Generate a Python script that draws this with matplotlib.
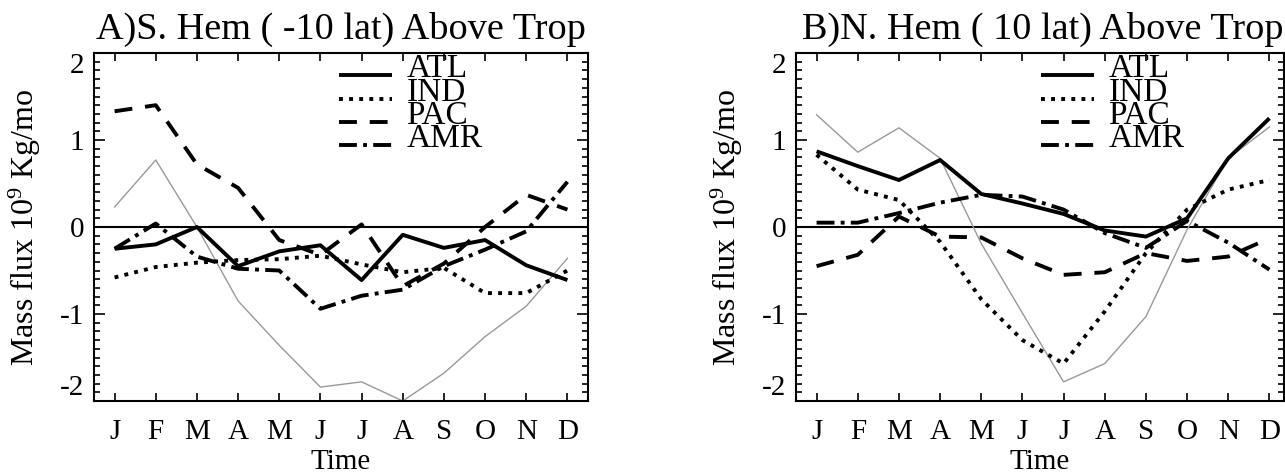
import matplotlib
matplotlib.use("Agg")
import matplotlib.pyplot as plt
import matplotlib.transforms as mtransforms
from matplotlib.ticker import MultipleLocator, FixedLocator

# ---------------- data ----------------
months = ['J', 'F', 'M', 'A', 'M', 'J', 'J', 'A', 'S', 'O', 'N', 'D']
series_names = ['ATL', 'IND', 'PAC', 'AMR']

s_atl = [-0.25, -0.20, 0.00, -0.45, -0.28, -0.21, -0.61, -0.09, -0.24, -0.15, -0.44, -0.61]
s_ind = [-0.58, -0.46, -0.41, -0.38, -0.37, -0.33, -0.43, -0.52, -0.47, -0.76, -0.76, -0.50]
s_pac = [1.33, 1.40, 0.72, 0.45, -0.15, -0.32, 0.03, -0.68, -0.42, 0.00, 0.37, 0.20]
s_amr = [-0.25, 0.04, -0.34, -0.48, -0.50, -0.94, -0.79, -0.72, -0.45, -0.26, -0.05, 0.52]
s_tot = [0.23, 0.77, 0.00, -0.85, -1.36, -1.84, -1.78, -2.00, -1.68, -1.26, -0.91, -0.36]

n_atl = [0.87, 0.70, 0.54, 0.77, 0.38, 0.27, 0.15, -0.04, -0.11, 0.10, 0.79, 1.25]
n_ind = [0.83, 0.43, 0.31, -0.17, -0.83, -1.30, -1.57, -0.97, -0.30, 0.20, 0.43, 0.54]
n_pac = [-0.45, -0.32, 0.12, -0.11, -0.12, -0.36, -0.55, -0.52, -0.30, -0.39, -0.34, -0.13]
n_amr = [0.05, 0.05, 0.16, 0.28, 0.37, 0.35, 0.20, -0.07, -0.24, 0.07, -0.18, -0.49]
n_tot = [1.29, 0.86, 1.14, 0.79, -0.19, -0.99, -1.78, -1.57, -1.03, -0.03, 0.79, 1.15]

titles = ['A)S. Hem ( -10 lat) Above Trop', 'B)N. Hem ( 10 lat) Above Trop']
ylabel = 'Mass flux 10$^9$ Kg/mo'
xlabel = 'Time'
ytick_vals = [-2, -1, 0, 1, 2]

# ---------------- style ----------------
plt.rcParams['font.family'] = ['Liberation Serif', 'DejaVu Serif']
plt.rcParams['mathtext.fontset'] = 'custom'
plt.rcParams['mathtext.rm'] = 'Liberation Serif'
plt.rcParams['mathtext.it'] = 'Liberation Serif:italic'
plt.rcParams['mathtext.default'] = 'rm'
plt.rcParams['axes.unicode_minus'] = False

LW = 2.8
styles = {
    'ATL': dict(color='black', lw=LW, linestyle='-'),
    'IND': dict(color='black', lw=LW, linestyle=(0, (1.0, 1.6))),
    'PAC': dict(color='black', lw=LW, linestyle=(0, (4.6, 3.3))),
    'AMR': dict(color='black', lw=LW, linestyle=(0, (4.6, 1.6, 1.0, 1.6))),
}

W, H = 1285, 474
fig = plt.figure(figsize=(W / 100, H / 100), dpi=100)

def fx(px):
    return px / W

def fy(py):
    return 1 - py / H

panels = [
    dict(left=94, right=588, xmax=11.5, title_x=0.5,
         data=[s_atl, s_ind, s_pac, s_amr], tot=s_tot, title=titles[0]),
    dict(left=796, right=1284, xmax=11.5 - 6 / 41.1, title_x=0.506,
         data=[n_atl, n_ind, n_pac, n_amr], tot=n_tot, title=titles[1]),
]
top_px, bot_px = 53, 401
FS_TICK = 21
FS_XLABEL = 21
FS_YLABEL = 23
FS_TITLE = 27.5
FS_LEG = 24

x = list(range(len(months)))
for p in panels:
    ax = fig.add_axes([fx(p['left']), fy(bot_px), fx(p['right'] - p['left']),
                       (bot_px - top_px) / H])
    ax.set_xlim(-0.5, p['xmax'])
    ax.set_ylim(-2, 2)
    ax.axhline(0, color='black', lw=1.5, zorder=1)
    ax.plot(x, p['tot'], color='#999999', lw=1.0, zorder=2)
    for name, vals in zip(series_names, p['data']):
        ax.plot(x, vals, zorder=3, solid_capstyle='butt', dash_capstyle='butt',
                **styles[name])

    # ticks
    ax.xaxis.set_major_locator(FixedLocator(x))
    ax.set_xticklabels(months)
    ax.yaxis.set_major_locator(FixedLocator(ytick_vals))
    ax.yaxis.set_minor_locator(MultipleLocator(0.1))
    ax.set_yticklabels([str(v) for v in ytick_vals])
    ax.tick_params(axis='both', which='both', direction='in',
                   top=True, right=True, width=1.2, color='black')
    ax.tick_params(axis='x', which='major', length=6, pad=13, labelsize=FS_TICK)
    ax.tick_params(axis='y', which='major', length=8, pad=7, labelsize=FS_TICK)
    ax.tick_params(axis='y', which='minor', length=4)
    ylabs = ax.get_yticklabels()
    ylabs[0].set_va('bottom')
    ylabs[-1].set_va('top')
    for s in ax.spines.values():
        s.set_linewidth(1.5)

    ax.set_xlabel(xlabel, fontsize=FS_XLABEL, labelpad=3)
    ax.set_ylabel(ylabel, fontsize=FS_YLABEL, labelpad=12)
    ax.set_title(p['title'], fontsize=FS_TITLE, pad=10, x=p['title_x'])

    # legend drawn inside the plot (x in data units, y in axes fraction)
    trans = mtransforms.blended_transform_factory(ax.transData, ax.transAxes)
    leg_y = [0.937, 0.868, 0.802, 0.736]
    for name, yy in zip(series_names, leg_y):
        ax.plot([5.44, 6.74], [yy, yy], transform=trans, clip_on=False,
                solid_capstyle='butt', dash_capstyle='butt', **styles[name])
        ax.text(7.09, yy - 0.005, name, transform=trans, fontsize=FS_LEG,
                va='baseline', ha='left')

fig.savefig('out.png', dpi=100)
